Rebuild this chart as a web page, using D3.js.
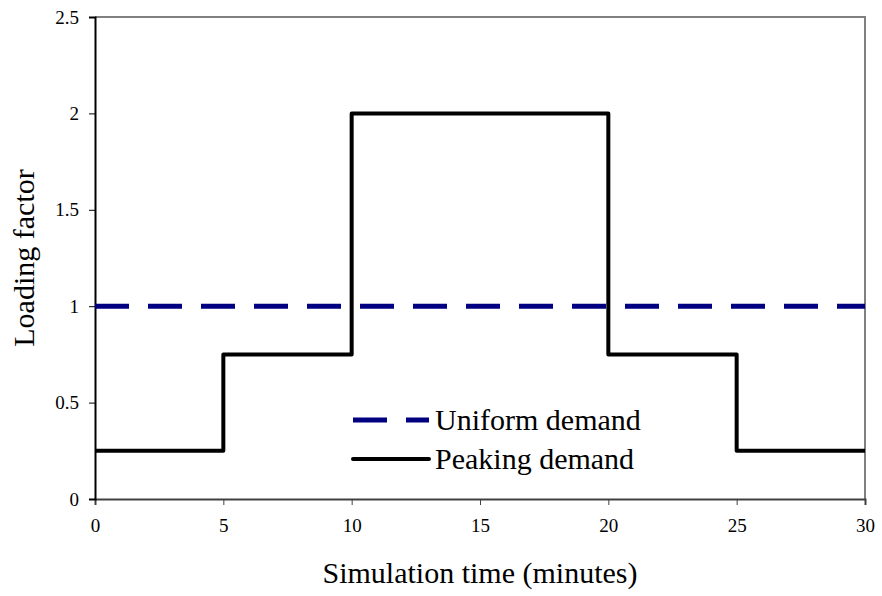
<!DOCTYPE html>
<html lang="en">
<head>
  <meta charset="UTF-8">
  <title>Loading factor</title>
  <script src="https://d3js.org/d3.v7.min.js"></script>
  <style>
    body { margin: 0; background: #fff; }
    svg { display: block; }
    svg text { font-family: "Liberation Serif", "Times New Roman", serif; }
  </style>
</head>
<body>
  <svg id="chart" width="882" height="596"></svg>
  <script>
    // series data
    const uniformTime = [0, 30];
    const uniformLoad = [1, 1];
    const peakTime = [0, 5, 10, 20, 25, 30];
    const peakLoad = [0.25, 0.75, 2, 0.75, 0.25, 0.25];
    const xTicks = [0, 5, 10, 15, 20, 25, 30];
    const yTicks = [0, 0.5, 1, 1.5, 2, 2.5];
    const seriesNames = ["Uniform demand", "Peaking demand"];

    const svg = d3.select("#chart");
    const m = { left: 95, right: 865, top: 17, bottom: 499 };

    const x = d3.scaleLinear().domain([0, 30]).range([m.left, m.right]);
    const y = d3.scaleLinear().domain([0, 2.5]).range([m.bottom, m.top]);

    // frame top/right
    svg.append("path")
      .attr("d", `M${m.left},${m.top}H${m.right}V${m.bottom}`)
      .attr("fill", "none").attr("stroke", "#808080").attr("stroke-width", 2);

    const xAxis = svg.append("g")
      .attr("transform", `translate(0,${m.bottom})`)
      .call(d3.axisBottom(x).tickValues(xTicks).tickSize(6).tickPadding(14).tickFormat(d3.format("")));
    xAxis.select(".domain").attr("stroke", "#404040").attr("stroke-width", 2);
    xAxis.selectAll(".tick line").attr("stroke", "#404040");
    xAxis.selectAll("text").attr("font-size", 19).attr("fill", "#000");

    const yAxis = svg.append("g")
      .attr("transform", `translate(${m.left},0)`)
      .call(d3.axisLeft(y).tickValues(yTicks).tickSize(6).tickPadding(10).tickFormat(d3.format("")));
    yAxis.select(".domain").attr("stroke", "#000").attr("stroke-width", 2);
    yAxis.selectAll(".tick line").attr("stroke", "#000");
    yAxis.selectAll("text").attr("font-size", 19).attr("fill", "#000");

    const line = d3.line().x(d => x(d[0])).y(d => y(d[1]));
    const stepLine = d3.line().curve(d3.curveStepAfter).x(d => x(d[0])).y(d => y(d[1]));

    svg.append("path")
      .datum(uniformTime.map((t, i) => [t, uniformLoad[i]]))
      .attr("d", line)
      .attr("fill", "none").attr("stroke", "#000080").attr("stroke-width", 5)
      .attr("stroke-dasharray", "34,19");

    svg.append("path")
      .datum(peakTime.map((t, i) => [t, peakLoad[i]]))
      .attr("d", stepLine)
      .attr("fill", "none").attr("stroke", "#000").attr("stroke-width", 4)
      .attr("stroke-linejoin", "round");

    // legend
    const lg = svg.append("g").attr("transform", "translate(353,420)");
    lg.append("line").attr("x1", 0).attr("x2", 76).attr("y1", 0).attr("y2", 0)
      .attr("stroke", "#000080").attr("stroke-width", 5).attr("stroke-dasharray", "34,19");
    lg.append("line").attr("x1", 0).attr("x2", 76).attr("y1", 39).attr("y2", 39)
      .attr("stroke", "#000").attr("stroke-width", 4).attr("stroke-linecap", "round");
    lg.selectAll("text.leg").data(seriesNames).join("text")
      .attr("class", "leg")
      .attr("x", 82).attr("y", (d, i) => 10 + i * 39)
      .attr("font-size", 30).text(d => d);

    svg.append("text")
      .attr("x", (m.left + m.right) / 2).attr("y", 583)
      .attr("text-anchor", "middle").attr("font-size", 30)
      .text("Simulation time (minutes)");

    svg.append("text")
      .attr("transform", `translate(34,${(m.top + m.bottom) / 2}) rotate(-90)`)
      .attr("text-anchor", "middle").attr("font-size", 30)
      .text("Loading factor");
  </script>
</body>
</html>
